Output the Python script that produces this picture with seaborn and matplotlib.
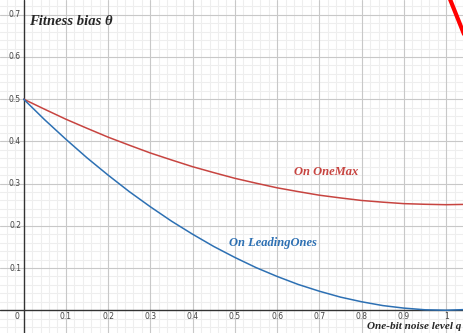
import matplotlib
matplotlib.use("Agg")
import matplotlib.pyplot as plt
import seaborn as sns
import numpy as np
import pandas as pd

# ---- data ----
q = [0.0, 0.05, 0.1, 0.15, 0.2, 0.25, 0.3, 0.35, 0.4, 0.45, 0.5,
     0.55, 0.6, 0.65, 0.7, 0.75, 0.8, 0.85, 0.9, 0.95, 1.0, 1.06]
onemax = [0.5, 0.476, 0.4525, 0.431, 0.41, 0.391, 0.3725, 0.356, 0.34, 0.326, 0.3125,
          0.301, 0.29, 0.281, 0.2725, 0.266, 0.26, 0.256, 0.2525, 0.251, 0.25, 0.251]
leadingones = [0.5, 0.451, 0.405, 0.361, 0.32, 0.281, 0.245, 0.211, 0.18, 0.151, 0.125,
               0.101, 0.08, 0.061, 0.045, 0.031, 0.02, 0.011, 0.005, 0.001, 0.0, 0.002]
corner_q = [1.002, 1.01, 1.026, 1.04, 1.05]
corner_theta = [0.76, 0.735, 0.695, 0.66, 0.635]

xtick_vals = [0.1, 0.2, 0.3, 0.4, 0.5, 0.6, 0.7, 0.8, 0.9, 1.0]
xtick_labels = ["0.1", "0.2", "0.3", "0.4", "0.5", "0.6", "0.7", "0.8", "0.9", "1"]
ytick_vals = [0.1, 0.2, 0.3, 0.4, 0.5, 0.6, 0.7]
ytick_labels = ["0.1", "0.2", "0.3", "0.4", "0.5", "0.6", "0.7"]

sns.set_style("white")

fig = plt.figure(figsize=(4.63, 3.33), dpi=100)
ax = fig.add_axes([0, 0, 1, 1])
xmin, xmax = -0.056, 1.04
ymin, ymax = -0.054, 0.735
ax.set_xlim(xmin, xmax)
ax.set_ylim(ymin, ymax)

# grid
for v in np.arange(-0.04, 1.05, 0.02):
    if abs(round(v * 50) % 5) != 0:
        ax.axvline(v, color="#eeeeee", lw=0.8, zorder=0)
for v in np.arange(-0.04, 0.74, 0.02):
    if abs(round(v * 50) % 5) != 0:
        ax.axhline(v, color="#eeeeee", lw=0.8, zorder=0)
for v in xtick_vals:
    ax.axvline(v, color="#c8c8c8", lw=0.8, zorder=0)
for v in ytick_vals:
    ax.axhline(v, color="#c8c8c8", lw=0.8, zorder=0)
ax.axvline(0, color="#333333", lw=1.0, zorder=1)
ax.axhline(0, color="#333333", lw=1.0, zorder=1)

df = pd.DataFrame({"q": q, "OneMax": onemax, "LeadingOnes": leadingones})
sns.lineplot(data=df, x="q", y="OneMax", ax=ax, color="#c74440", lw=1.1, zorder=3)
sns.lineplot(data=df, x="q", y="LeadingOnes", ax=ax, color="#2d70b3", lw=1.1, zorder=3)
dfc = pd.DataFrame({"q": corner_q, "t": corner_theta})
sns.lineplot(data=dfc, x="q", y="t", ax=ax, color="#ff0000", lw=3, zorder=3)

for s in ax.spines.values():
    s.set_visible(False)
ax.set_xticks([])
ax.set_yticks([])
ax.set_xlabel("")
ax.set_ylabel("")

tick_kw = dict(fontsize=5.5, color="#444444")
for v, lab in zip(xtick_vals, xtick_labels):
    ax.text(v, -0.014, lab, ha="center", va="center", **tick_kw)
ax.text(-0.01, -0.014, "0", ha="right", va="center", **tick_kw)
for v, lab in zip(ytick_vals, ytick_labels):
    ax.text(-0.006, v, lab, ha="right", va="center", **tick_kw)

serif = "Liberation Serif"
ax.text(0.012, 0.683, "Fitness bias θ", fontsize=10.5, fontweight="bold", fontstyle="italic",
        family=serif, ha="left", va="center")
ax.text(1.035, -0.039, "One-bit noise level q", fontsize=8, fontweight="bold", fontstyle="italic",
        family=serif, ha="right", va="center")
ax.text(0.64, 0.327, "On OneMax", fontsize=9, fontweight="bold", fontstyle="italic",
        family=serif, color="#c74440", ha="left", va="center")
ax.text(0.487, 0.16, "On LeadingOnes", fontsize=9, fontweight="bold", fontstyle="italic",
        family=serif, color="#2d70b3", ha="left", va="center")

fig.savefig("out.png", dpi=100)
